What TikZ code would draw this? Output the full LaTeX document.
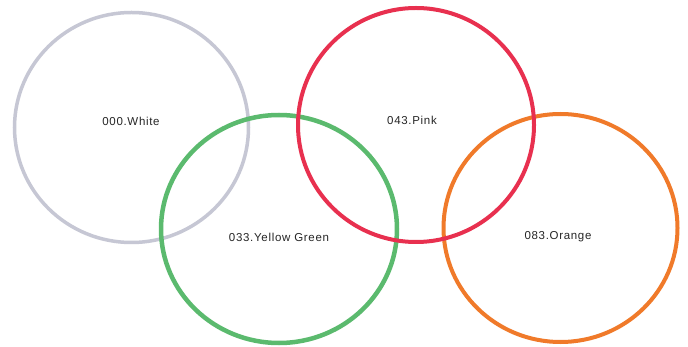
\documentclass[tikz,border=0pt]{standalone}
\usepackage{fontspec}
\setmainfont{Liberation Sans}
\begin{document}
\begin{tikzpicture}[x=1pt,y=-1pt,
  ring/.style={line width=#1},
  lbl/.style={font=\fontsize{11.5}{13}\selectfont\addfontfeature{LetterSpace=6}, text=black!85, inner sep=0pt}]
\definecolor{cwhite}{HTML}{C6C7D4}
\definecolor{cgreen}{HTML}{5BBA6E}
\definecolor{cpink}{HTML}{E8304F}
\definecolor{corange}{HTML}{F07A2A}
\useasboundingbox[fill=white] (0,0) rectangle (688,347);
\draw[ring=3.5pt, cwhite] (131.5,127.5) ellipse [x radius=117, y radius=115];
\draw[ring=4.5pt, cgreen] (279,229) ellipse [x radius=118, y radius=114];
\draw[ring=4pt, corange] (560.5,228) ellipse [x radius=117, y radius=114];
\draw[ring=4pt, cpink] (416,125) ellipse [x radius=118, y radius=117];
\node[lbl] (w) at (131,121) {000.White};
\node[lbl] (g) at (279,237) {033.Yellow Green};
\node[lbl] (p) at (412,120) {043.Pink};
\node[lbl] (o) at (558,237) {083.Orange};
\end{tikzpicture}
\end{document}
